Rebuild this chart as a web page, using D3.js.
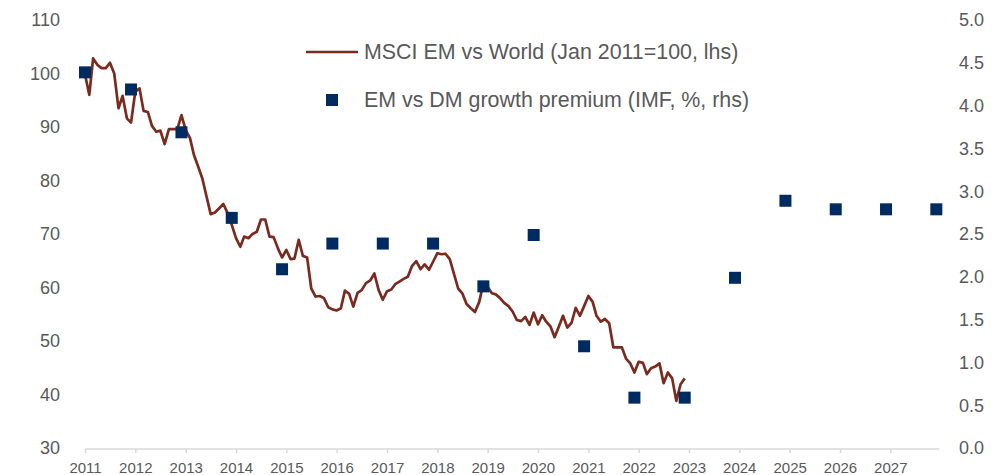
<!DOCTYPE html>
<html>
<head>
	<meta charset="utf-8">
	<title></title>
	<style>
		body { margin: 0; background: #fff; }
		text { font-family: "Liberation Sans", Arial, sans-serif; fill: #595959; }
	</style>
</head>
<body>
	<svg id="container" height="475" width="1006"></svg>
</body>
<script src="https://d3js.org/d3.v7.min.js"></script>
<script>
	// MSCI EM vs World, monthly from Jan 2011 (Jan 2011 = 100)
	let lineStart = "2011-01"
	let emVsWorld = [
		100, 96.2, 103.0, 101.8, 101.2, 101.2, 102.2, 100.2, 93.7, 96.0, 91.8, 91.0,
		96.8, 97.4, 93.2, 93.0, 90.4, 89.3, 89.5, 87.0, 89.8, 89.8, 89.8, 92.4,
		89.6, 88.1, 85.0, 82.8, 80.6, 77.2, 73.9, 74.2, 75.0, 75.8, 74.1, 71.9,
		69.4, 67.8, 69.7, 69.4, 70.2, 70.6, 72.9, 72.9, 69.7, 69.6, 67.5, 65.8,
		67.2, 65.5, 65.6, 69.1, 66.1, 65.8, 60.0, 58.5, 58.6, 58.2, 56.5, 56.1,
		55.9, 56.3, 59.6, 59.0, 56.6, 59.2, 59.7, 61.0, 61.5, 62.8, 59.7, 57.9,
		59.5, 59.8, 60.8, 61.3, 61.8, 62.2, 64.2, 65.1, 63.6, 64.5, 63.5, 65.0,
		66.6, 66.4, 66.5, 65.5, 62.8, 60.0, 59.1, 57.1, 56.3, 55.6, 57.5, 61.0,
		60.3, 59.1, 58.9, 58.2, 57.3, 56.7, 55.7, 54.1, 53.9, 54.7, 53.2, 55.5,
		53.3, 55.0, 53.8, 52.9, 50.9, 52.9, 54.9, 52.7, 53.6, 56.4, 54.9, 56.7,
		58.6, 57.5, 54.9, 53.8, 54.3, 53.5, 49.0, 49.0, 49.0, 46.9, 46.0, 44.3,
		46.3, 46.1, 44.0, 45.1, 45.4, 46.0, 42.3, 44.3, 43.2, 39.0, 42.1, 43.2
	]

	// EM vs DM growth premium (IMF, %)
	let premiumDates = ["2011-01", "2011-12", "2012-12", "2013-12", "2014-12", "2015-12",
		"2016-12", "2017-12", "2018-12", "2019-12", "2020-12", "2021-12", "2022-12",
		"2023-12", "2024-12", "2025-12", "2026-12", "2027-12"]
	let premium = [4.4, 4.2, 3.7, 2.7, 2.1, 2.4, 2.4, 2.4, 1.9, 2.5, 1.2, 0.6, 0.6,
		2.0, 2.9, 2.8, 2.8, 2.8]

	let yearTicks = d3.range(2011, 2028)
	let leftTicks = [30, 40, 50, 60, 70, 80, 90, 100, 110]
	let rightTicks = [0, 0.5, 1, 1.5, 2, 2.5, 3, 3.5, 4, 4.5, 5]

	let lineLabel = "MSCI EM vs World (Jan 2011=100, lhs)"
	let dotLabel = "EM vs DM growth premium (IMF, %, rhs)"

	let svg = d3.select("#container")
	let parseMonth = d3.timeParse("%Y-%m")

	let x = d3.scaleTime()
		.domain([new Date(2011, 0, 1), new Date(2028, 0, 1)])
		.range([85, 940.6])
	let yL = d3.scaleLinear().domain([30, 110]).range([449, 21])
	let yR = d3.scaleLinear().domain([0, 5]).range([449, 21])

	let lineData = emVsWorld.map((v, i) => ({ date: d3.timeMonth.offset(parseMonth(lineStart), i), value: v }))
	let dotData = premiumDates.map((d, i) => ({ date: parseMonth(d), value: premium[i] }))

	// x axis
	svg.append("line")
		.attr("x1", x(new Date(2011, 0, 1)))
		.attr("x2", x(new Date(2027, 11, 22)))
		.attr("y1", 449).attr("y2", 449)
		.attr("stroke", "#d9d9d9")
		.attr("stroke-width", 1.5)

	let xAxis = svg.append("g")
		.attr("transform", "translate(0,449)")
		.call(d3.axisBottom(x)
			.tickValues(yearTicks.map(y => new Date(y, 0, 1)))
			.tickFormat(d3.timeFormat("%Y"))
			.tickSize(4)
			.tickPadding(9))
	xAxis.select(".domain").remove()
	xAxis.selectAll(".tick line").attr("stroke", "#d9d9d9").attr("stroke-width", 1.5)
	xAxis.selectAll(".tick text")
		.attr("font-size", 15)
		.attr("font-family", null)
		.attr("fill", "#595959")

	// left and right tick labels
	svg.selectAll("text.left")
		.data(leftTicks)
		.enter().append("text")
		.attr("class", "left")
		.attr("x", 60)
		.attr("y", d => yL(d) - 1)
		.attr("dy", "0.35em")
		.attr("text-anchor", "end")
		.attr("font-size", 18)
		.text(d => d)

	svg.selectAll("text.right")
		.data(rightTicks)
		.enter().append("text")
		.attr("class", "right")
		.attr("x", 984)
		.attr("y", d => yR(d) - 1)
		.attr("dy", "0.35em")
		.attr("text-anchor", "end")
		.attr("font-size", 18)
		.text(d => d3.format(".1f")(d))

	// MSCI line
	let line = d3.line()
		.x(d => x(d.date))
		.y(d => yL(d.value))

	svg.append("path")
		.datum(lineData)
		.attr("d", line)
		.attr("fill", "none")
		.attr("stroke", "#7a2a1e")
		.attr("stroke-width", 2.7)
		.attr("stroke-linejoin", "round")

	// growth premium squares
	let sq = 12
	svg.selectAll("rect.dot")
		.data(dotData)
		.enter().append("rect")
		.attr("class", "dot")
		.attr("x", d => x(d.date) - sq / 2)
		.attr("y", d => yR(d.value) - sq / 2)
		.attr("width", sq)
		.attr("height", sq)
		.attr("fill", "#002b60")

	// legend
	let legend = svg.append("g")
	legend.append("line")
		.attr("x1", 306).attr("x2", 358)
		.attr("y1", 52).attr("y2", 52)
		.attr("stroke", "#7a2a1e")
		.attr("stroke-width", 2.7)
	legend.append("text")
		.attr("x", 364).attr("y", 52)
		.attr("dy", "0.35em")
		.attr("font-size", 21.4)
		.text(lineLabel)
	legend.append("rect")
		.attr("x", 332 - sq / 2).attr("y", 100 - sq / 2)
		.attr("width", sq).attr("height", sq)
		.attr("fill", "#002b60")
	legend.append("text")
		.attr("x", 364).attr("y", 100)
		.attr("dy", "0.35em")
		.attr("font-size", 21.4)
		.text(dotLabel)
</script>
</html>
